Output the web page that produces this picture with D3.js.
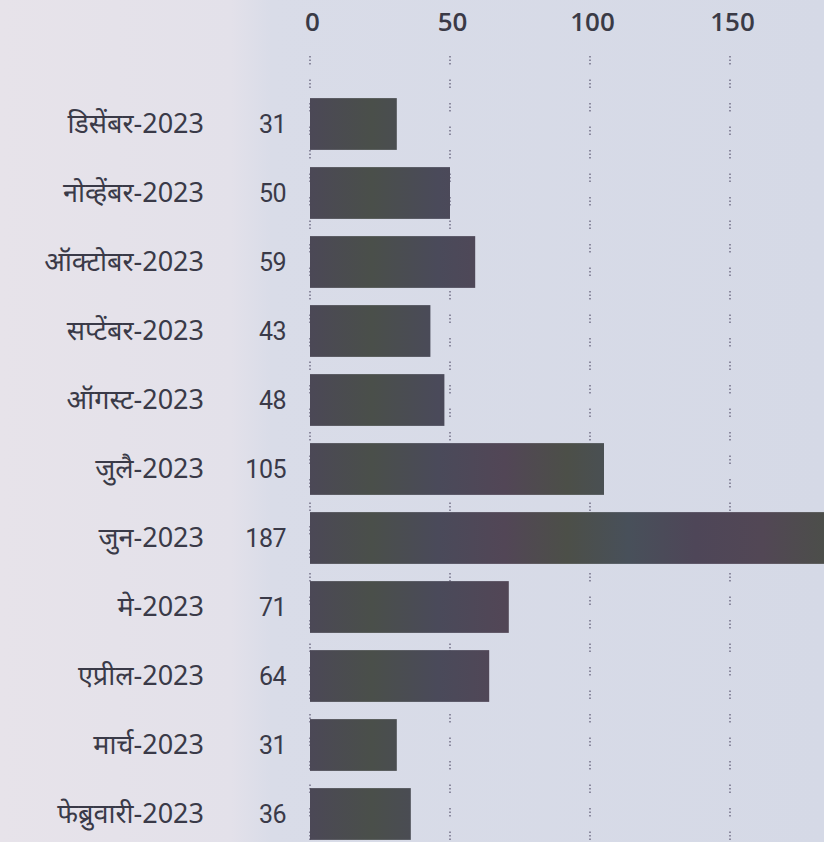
<!DOCTYPE html>
<html><head><meta charset="utf-8">
<script src="https://cdn.jsdelivr.net/npm/d3@7"></script>
<style>
html,body{margin:0;padding:0;background:#dadde8;}
svg{display:block;}
</style></head>
<body>
<svg id="chart" width="824" height="842"></svg>
<script>
const categories = ["डिसेंबर-2023","नोव्हेंबर-2023","ऑक्टोबर-2023","सप्टेंबर-2023","ऑगस्ट-2023","जुलै-2023","जुन-2023","मे-2023","एप्रील-2023","मार्च-2023","फेब्रुवारी-2023"];
const values = [31,50,59,43,48,105,187,71,64,31,36];
const tickValues = [0,50,100,150];

const svg = d3.select("#chart");
const W = 824, H = 842;

const defs = svg.append("defs");
const bg = defs.append("linearGradient").attr("id","bg").attr("x1","0").attr("x2","1");
bg.append("stop").attr("offset","0").attr("stop-color","#e7e3ea");
bg.append("stop").attr("offset","0.28").attr("stop-color","#e3e1ea");
bg.append("stop").attr("offset","0.33").attr("stop-color","#d9dce8");
bg.append("stop").attr("offset","1").attr("stop-color","#d5d9e6");
svg.append("rect").attr("width",W).attr("height",H).attr("fill","url(#bg)");

// subtle hue drift of the printed bars
const bf = defs.append("linearGradient").attr("id","barfill")
  .attr("gradientUnits","userSpaceOnUse").attr("x1",310).attr("x2",824).attr("y1",0).attr("y2",0);
[["0","#4b4856"],["0.12","#4a4f4a"],["0.25","#4a4a5a"],["0.38","#524656"],["0.5","#4c4f48"],["0.62","#48505a"],["0.75","#4e4658"],["0.88","#524755"],["1","#4c4e4a"]]
  .forEach(s=>bf.append("stop").attr("offset",s[0]).attr("stop-color",s[1]));

const x = d3.scaleLinear().domain([0,50]).range([310,450]);
const y = d3.scaleBand().domain(categories).range([89.5,848.5]).paddingInner(0.25).paddingOuter(0.125);

// gridlines
svg.append("g").selectAll("line").data(tickValues).join("line")
  .attr("x1",d=>x(d)).attr("x2",d=>x(d))
  .attr("y1",56).attr("y2",H)
  .attr("stroke","#6c6880").attr("stroke-width",1.4)
  .attr("stroke-dasharray","1.5,2,1.5,2,1.5,15");

// top axis labels
const axis = d3.axisTop(x).tickValues(tickValues).tickSize(0).tickPadding(0);
const ag = svg.append("g").attr("transform","translate(2,31)").call(axis);
ag.select(".domain").remove();
ag.selectAll("text").attr("font-family","'Open Sans', 'Noto Sans', sans-serif")
  .attr("font-size",26).attr("font-weight",600).attr("fill","#3a3a46");

// bars
svg.append("g").selectAll("rect").data(values).join("rect")
  .attr("x",x(0))
  .attr("y",(d,i)=>y(categories[i]))
  .attr("width",d=>x(d)-x(0))
  .attr("height",y.bandwidth())
  .attr("fill","url(#barfill)");

// category labels
svg.append("g").selectAll("text").data(categories).join("text")
  .attr("x",204).attr("y",d=>y(d)+y.bandwidth()/2)
  .attr("dy","0.35em").attr("text-anchor","end")
  .attr("font-family","'Noto Sans', sans-serif")
  .attr("font-size",27).attr("fill","#3a3a48").text(d=>d);

// value labels
svg.append("g").selectAll("text").data(values).join("text")
  .attr("x",286).attr("y",(d,i)=>y(categories[i])+y.bandwidth()/2)
  .attr("dy","0.35em").attr("text-anchor","end")
  .attr("font-family","Roboto, 'Noto Sans', sans-serif")
  .attr("font-size",25).attr("letter-spacing","-0.5").attr("fill","#3a3a48").text(d=>d);
</script>
</body></html>
